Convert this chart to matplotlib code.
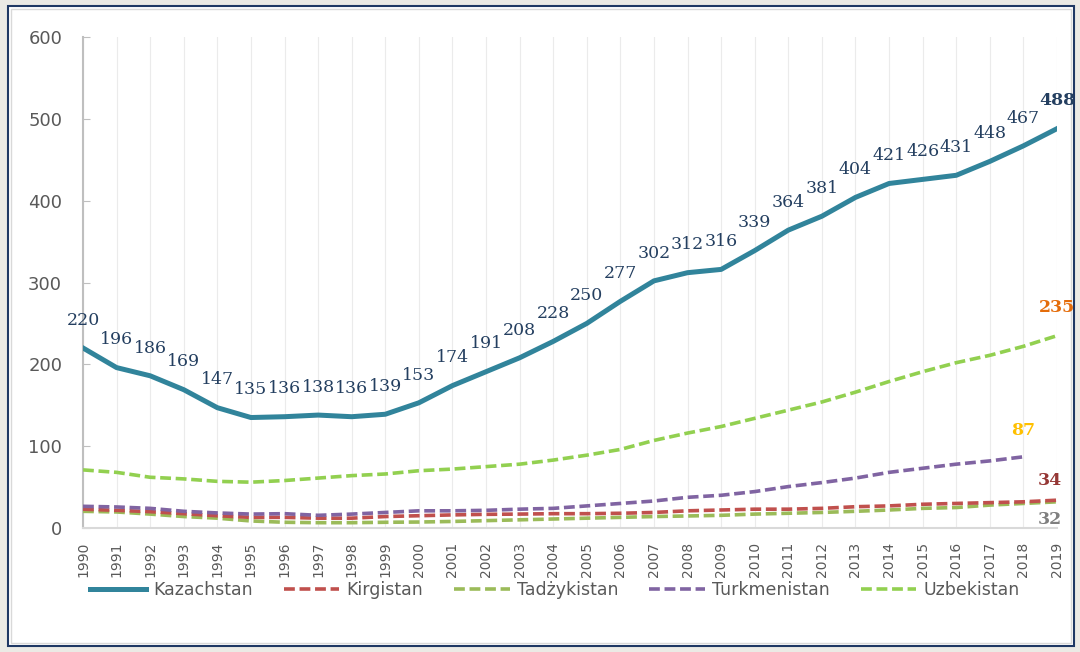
import matplotlib.pyplot as plt
from matplotlib.patches import Rectangle

years = list(range(1990, 2020))

kazachstan = [220, 196, 186, 169, 147, 135, 136, 138, 136, 139, 153, 174, 191, 208, 228,
              250, 277, 302, 312, 316, 339, 364, 381, 404, 421, 426, 431, 448, 467, 488]
kirgistan = [23, 21.6, 20, 17.5, 15, 13, 13, 12, 12, 14, 15, 16, 16.7, 17, 17.5,
             17.5, 18, 19, 21, 22, 23, 23, 24, 26, 27, 29, 30, 31, 32, 34]
tadzykistan = [20.4, 19.6, 17, 14, 12, 8.6, 7, 6.5, 6.5, 7, 7.3, 8, 9, 10, 11,
               12, 13, 14, 14.7, 15.5, 17, 18, 19, 20.4, 22, 24, 25, 28, 30, 32]
turkmenistan = [26.5, 25.7, 24, 20.4, 18.4, 17, 17.5, 15.5, 17, 19, 21, 21, 21.6, 23, 24,
                27, 30, 33, 37.5, 40, 44.5, 50.6, 55.5, 61, 68, 73, 78, 82, 87]
uzbekistan = [71, 68, 62, 60, 57, 56, 58, 61, 64, 66, 70, 72, 75, 78, 83,
              89, 96, 107, 116, 124, 134, 144, 154, 166, 179, 191, 202, 211, 222, 235]

fig = plt.figure(figsize=(10.8, 6.52), dpi=100)
fig.patch.set_facecolor('#ebeae5')
# white panel with navy frame
fig.patches.append(Rectangle((8 / 1080, 6 / 652), 1066 / 1080, 640 / 652, transform=fig.transFigure,
                             facecolor='white', edgecolor='#1f3864', linewidth=1.5, zorder=-10))
fig.patches.append(Rectangle((11 / 1080, 9 / 652), 1060 / 1080, 634 / 652, transform=fig.transFigure,
                             facecolor='none', edgecolor='#d9d9d9', linewidth=1.0, zorder=-10))

ax = fig.add_axes([83 / 1080, 1 - 528 / 652, 974 / 1080, 491 / 652])
ax.set_facecolor('none')

dash = (0, (3, 1.3))
ax.plot(years, kazachstan, color='#31849b', lw=3.6, label='Kazachstan', zorder=5)
ax.plot(years, kirgistan, color='#c0504d', lw=2.6, ls=dash, label='Kirgistan', zorder=4)
ax.plot(years, tadzykistan, color='#9bbb59', lw=2.6, ls=dash, label='Tadżykistan', zorder=3)
ax.plot(years[:len(turkmenistan)], turkmenistan, color='#8064a2', lw=2.6, ls=dash,
        label='Turkmenistan', zorder=4)
ax.plot(years, uzbekistan, color='#92d050', lw=2.6, ls=dash, label='Uzbekistan', zorder=4)

navy = '#243f60'
fs = 12.5
for i, (x, v) in enumerate(zip(years, kazachstan)):
    last = i == len(years) - 1
    ax.annotate(str(v), (x, v), xytext=(0, 20), textcoords='offset points', ha='center', va='center',
                fontsize=fs, family='DejaVu Serif', color=navy,
                fontweight='bold' if last else 'normal', annotation_clip=False)

ax.annotate(str(uzbekistan[-1]), (years[-1], uzbekistan[-1]), xytext=(0, 20), textcoords='offset points',
            ha='center', va='center', fontsize=fs, family='DejaVu Serif', color='#e46c0a',
            fontweight='bold', annotation_clip=False)
ax.annotate(str(turkmenistan[-1]), (years[len(turkmenistan) - 1], turkmenistan[-1]), xytext=(0, 19),
            textcoords='offset points', ha='center', va='center', fontsize=fs, family='DejaVu Serif',
            color='#ffc000', fontweight='bold', annotation_clip=False)
ax.annotate(str(kirgistan[-1]), (years[-1], kirgistan[-1]), xytext=(-5, 14), textcoords='offset points',
            ha='center', va='center', fontsize=fs, family='DejaVu Serif', color='#953735',
            fontweight='bold', annotation_clip=False)
ax.annotate(str(tadzykistan[-1]), (years[-1], tadzykistan[-1]), xytext=(-5, -13), textcoords='offset points',
            ha='center', va='center', fontsize=fs, family='DejaVu Serif', color='#7f7f7f',
            fontweight='bold', annotation_clip=False)

ax.set_xlim(1990, 2019)
ax.set_ylim(0, 600)
ax.set_xticks(years)
ax.set_xticklabels([str(y) for y in years], rotation=90, fontsize=10, color='#595959')
ax.set_yticks(range(0, 601, 100))
ax.tick_params(axis='y', direction='in', length=5, color='#bfbfbf', labelsize=13,
               labelcolor='#595959', pad=15)
ax.tick_params(axis='x', length=0, pad=10)
ax.grid(axis='x', color='#ebebeb', lw=0.8)
ax.set_axisbelow(True)
for s in ['top', 'right']:
    ax.spines[s].set_visible(False)
ax.spines['left'].set_color('#bfbfbf')
ax.spines['left'].set_linewidth(1.5)
ax.spines['bottom'].set_color('#d9d9d9')
ax.spines['bottom'].set_linewidth(1.5)

leg = fig.legend(loc='center', bbox_to_anchor=(555 / 1080, 1 - 590 / 652), ncol=5, frameon=False,
                 fontsize=12.5, handlelength=3.2, columnspacing=1.8, handletextpad=0.4)
for t in leg.get_texts():
    t.set_color('#595959')

fig.savefig('out.png', dpi=100, facecolor=fig.get_facecolor())
